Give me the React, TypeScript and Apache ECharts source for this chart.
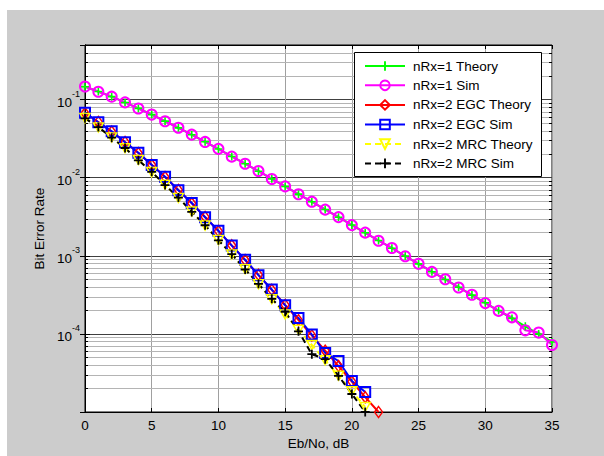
import React, { useEffect, useRef } from "react";
import * as echarts from "echarts";

const ebN0Db1 = [0, 1, 2, 3, 4, 5, 6, 7, 8, 9, 10, 11, 12, 13, 14, 15, 16, 17, 18, 19, 20, 21, 22, 23, 24, 25, 26, 27, 28, 29, 30, 31, 32, 33, 34, 35];
const ebN0Db2 = [0, 1, 2, 3, 4, 5, 6, 7, 8, 9, 10, 11, 12, 13, 14, 15, 16, 17, 18, 19, 20, 21, 22];

const nRx1Theory = [0.146, 0.127, 0.109, 0.0919, 0.0771, 0.0642, 0.053, 0.0435, 0.0355, 0.0288, 0.0233, 0.0187, 0.0151, 0.0121, 0.00966, 0.00772, 0.00616, 0.00491, 0.00392, 0.00312, 0.00248, 0.00197, 0.00157, 0.00125, 0.000992, 0.000788, 0.000626, 0.000498, 0.000396, 0.000314, 0.00025, 0.000199, 0.000158, 0.000125, 0.0000995, 0.000079];
const nRx1Sim = [0.147, 0.126, 0.109, 0.0921, 0.0769, 0.0643, 0.0528, 0.0436, 0.0356, 0.0287, 0.0234, 0.0186, 0.0151, 0.0122, 0.00963, 0.00774, 0.00614, 0.00493, 0.0039, 0.00313, 0.00247, 0.00198, 0.00156, 0.00126, 0.000985, 0.000792, 0.000622, 0.000501, 0.000392, 0.000317, 0.000248, 0.000197, 0.000163, 0.000111, 0.000104, 0.000072];
const egcTheory = [0.067, 0.0517, 0.0389, 0.0287, 0.0207, 0.0146, 0.0102, 0.00697, 0.0047, 0.00314, 0.00207, 0.00136, 0.000881, 0.00057, 0.000367, 0.000235, 0.00015, 0.0000957, 0.0000609, 0.0000387, 0.0000245, 0.0000155, 0.00001];
const egcSim = [0.068, 0.0512, 0.0392, 0.0284, 0.0209, 0.0145, 0.0103, 0.0069, 0.00475, 0.00312, 0.00209, 0.00135, 0.00089, 0.000565, 0.00037, 0.000232, 0.00016, 0.000098, 0.000057, 0.000045, 0.000025, 0.000018];
const mrcTheory = [0.058, 0.0441, 0.0328, 0.0238, 0.0169, 0.0118, 0.00813, 0.00551, 0.00369, 0.00244, 0.0016, 0.00104, 0.000674, 0.000434, 0.000278, 0.000178, 0.000113, 0.0000721, 0.000046, 0.0000291, 0.0000184, 0.0000116];
const mrcSim = [0.0575, 0.0445, 0.0325, 0.024, 0.0167, 0.0119, 0.00805, 0.00556, 0.00365, 0.00246, 0.00158, 0.00105, 0.000668, 0.000438, 0.000281, 0.000192, 0.000108, 0.000055, 0.0000475, 0.000029, 0.000017, 0.00001];

const seriesNames = ["nRx=1 Theory", "nRx=1 Sim", "nRx=2 EGC Theory", "nRx=2 EGC Sim", "nRx=2 MRC Theory", "nRx=2 MRC Sim"];
const yMin = 1e-5;
const yMax = 0.5;
const decades = [-5, -4, -3, -2, -1];
const minorMultipliers = [2, 3, 4, 5, 6, 7, 8, 9];

const FONT = "'Liberation Sans', Arial, Helvetica, sans-serif";
const FS = 13.5;
const PLUS = "path://M4,0H6V4H10V6H6V10H4V6H0V4H4Z";
const TRI_DOWN = "path://M0,0L10,0L5,9Z";

function pairs(xs: number[], ys: number[]) {
  return ys.map((y, i) => [xs[i], y]);
}

export default function App() {
  const ref = useRef<HTMLDivElement>(null);
  useEffect(() => {
    if (!ref.current) return;
    const chart = echarts.init(ref.current, undefined, { renderer: "svg" });
    const minorVals: number[][] = [];
    decades.forEach((d) => {
      minorMultipliers.forEach((m) => {
        const v = m * Math.pow(10, d);
        if (v < yMax) minorVals.push([0, v]);
      });
    });

    const lineSeries = (name: string, data: number[][], color: string, symbol: string, symbolSize: any, dashed: boolean, filled: boolean, bw: number) => ({
      name,
      type: "line",
      data,
      clip: false,
      symbol,
      symbolSize,
      z: 2,
      lineStyle: { color, width: 2, type: dashed ? [6, 4] : "solid" },
      itemStyle: filled
        ? { color, borderWidth: 0 }
        : { color: "none", borderColor: color, borderWidth: bw },
      emphasis: { disabled: true },
    });

    chart.setOption({
      animation: false,
      backgroundColor: "#cccccc",
      textStyle: { fontFamily: FONT },
      grid: {
        left: 78,
        top: 35,
        width: 467,
        height: 367,
        show: true,
        backgroundColor: "#ffffff",
        borderColor: "#000",
        borderWidth: 1,
      },
      graphic: [
        {
          type: "rect",
          z: 3,
          silent: true,
          shape: { x: 347.5, y: 42.5, width: 187, height: 124 },
          style: { fill: "#ffffff", stroke: "#000000", lineWidth: 1 },
        },
      ],
      legend: {
        data: seriesNames,
        orient: "vertical",
        left: 348,
        top: 43,
        z: 4,
        padding: [6, 0, 6, 9],
        itemWidth: 40,
        itemHeight: 12,
        itemGap: 5,
        backgroundColor: "transparent",
        borderWidth: 0,
        textStyle: {
          fontSize: FS,
          color: "#000",
          fontFamily: FONT,
          padding: [0, 0, 0, 3],
        },
      },
      xAxis: [
        {
          type: "value",
          min: 0,
          max: 35,
          interval: 5,
          name: "Eb/No, dB",
          nameLocation: "middle",
          nameGap: 24,
          nameTextStyle: { fontSize: FS, color: "#000", fontFamily: FONT },
          axisLine: { show: true, lineStyle: { color: "#000", width: 1 } },
          axisTick: { show: true, inside: true, length: 4, lineStyle: { color: "#000" } },
          axisLabel: { fontSize: FS, color: "#000", margin: 6, fontFamily: FONT },
          splitLine: { show: true, lineStyle: { color: "#a0a0a0", width: 1 } },
        },
        {
          type: "value",
          position: "top",
          min: 0,
          max: 35,
          interval: 5,
          axisLine: { show: true, lineStyle: { color: "#000", width: 1 } },
          axisTick: { show: true, inside: true, length: 4, lineStyle: { color: "#000" } },
          axisLabel: { show: false },
          splitLine: { show: false },
        },
      ],
      yAxis: [
        {
          type: "log",
          logBase: 10,
          min: yMin,
          max: yMax,
          name: "Bit Error Rate",
          nameLocation: "middle",
          nameGap: 38,
          nameTextStyle: { fontSize: FS, color: "#000", fontFamily: FONT },
          axisLine: { show: true, lineStyle: { color: "#000", width: 1 } },
          axisTick: { show: true, inside: true, length: 5, lineStyle: { color: "#000" } },
          axisLabel: {
            showMinLabel: false,
            showMaxLabel: false,
            margin: 5,
            formatter: (v: number) => {
              const e = Math.round(Math.log10(v));
              return "{b|10}{s|" + e + "}";
            },
            rich: {
              b: { fontSize: FS, color: "#000", fontFamily: FONT, lineHeight: 20, verticalAlign: "bottom" },
              s: { fontSize: 9, color: "#000", fontFamily: FONT, lineHeight: 20, verticalAlign: "top" },
            },
          },
          splitLine: { show: true, lineStyle: { color: "#404040", width: 1 } },
        },
        {
          type: "log",
          logBase: 10,
          min: yMin,
          max: yMax,
          position: "right",
          axisLine: { show: true, lineStyle: { color: "#000", width: 1 } },
          axisTick: { show: true, inside: true, length: 5, lineStyle: { color: "#000" } },
          axisLabel: { show: false },
          splitLine: { show: false },
        },
      ],
      series: [
        {
          name: "minorGrid",
          type: "custom",
          data: minorVals,
          z: 1,
          silent: true,
          clip: false,
          encode: { x: 0, y: 1 },
          renderItem: (params: any, api: any) => {
            const cs = params.coordSys;
            const y = Math.round(api.coord([0, api.value(1)])[1]) + 0.5;
            return {
              type: "group",
              children: [
                { type: "line", shape: { x1: cs.x, y1: y, x2: cs.x + cs.width, y2: y }, style: { stroke: "#b4b4b4", lineWidth: 1 } },
                { type: "line", shape: { x1: cs.x, y1: y, x2: cs.x + 3, y2: y }, style: { stroke: "#000", lineWidth: 1 } },
                { type: "line", shape: { x1: cs.x + cs.width - 3, y1: y, x2: cs.x + cs.width, y2: y }, style: { stroke: "#000", lineWidth: 1 } },
              ],
            };
          },
        },
        lineSeries(seriesNames[0], pairs(ebN0Db1, nRx1Theory), "#00ff00", PLUS, 8, false, true, 0),
        lineSeries(seriesNames[1], pairs(ebN0Db1, nRx1Sim), "#ff00ff", "circle", 10, false, false, 2),
        lineSeries(seriesNames[2], pairs(ebN0Db2, egcTheory), "#ff0000", "diamond", [8, 11], false, false, 1.5),
        lineSeries(seriesNames[3], pairs(ebN0Db2, egcSim), "#0000ff", "rect", 10, false, false, 2),
        lineSeries(seriesNames[4], pairs(ebN0Db2, mrcTheory), "#ffff00", TRI_DOWN, [10, 9], true, false, 1.5),
        lineSeries(seriesNames[5], pairs(ebN0Db2, mrcSim), "#000000", PLUS, 9, true, true, 0),
      ],
    });
    return () => chart.dispose();
  }, []);

  return (
    <div style={{ position: "fixed", left: 0, top: 0, width: 604, height: 456, background: "#ffffff" }}>
      <div ref={ref} style={{ position: "absolute", left: 7, top: 10, width: 597, height: 446 }} />
    </div>
  );
}
